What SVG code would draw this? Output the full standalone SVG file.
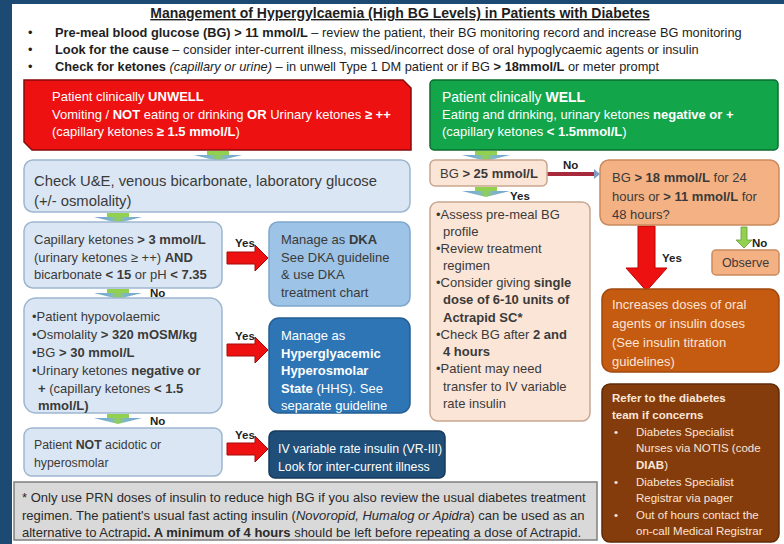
<svg xmlns="http://www.w3.org/2000/svg" width="784" height="544" viewBox="0 0 784 544">
<style>
text{font-family:"Liberation Sans",Arial,sans-serif;}
.b{font-weight:bold;}
.i{font-style:italic;}
.hd{font-size:12.8px;fill:#1e1e1e;}
.dk{font-size:13px;fill:#3a3a3a;}
.wh{fill:#ffffff;}
.lab{font-size:11.5px;font-weight:bold;fill:#1e1e1e;}
.yarrow{fill:#ee1111;stroke:#a50a0a;stroke-width:1;}
</style>
<defs>
<linearGradient id="hg" x1="0" x2="1" y1="0" y2="0">
<stop offset="0" stop-color="#6f9fd0"/>
<stop offset="0.35" stop-color="#7fb6c9"/>
<stop offset="0.5" stop-color="#92d050"/>
<stop offset="0.65" stop-color="#7fb6c9"/>
<stop offset="1" stop-color="#6f9fd0"/>
</linearGradient>
<g id="dn">
<rect x="-11" y="0" width="22" height="6" fill="#92d050"/>
<polygon points="-24,4 24,4 0,10" fill="url(#hg)"/>
</g>
<path id="ya" d="M0,-6 H28 V-13 L41,0 L28,13 V6 H0 Z"/>
</defs>

<rect x="0" y="0" width="784" height="544" fill="#1c4a72"/>
<rect x="12" y="4" width="772" height="540" fill="#ffffff"/>

<g id="header">
<text x="400" y="18" text-anchor="middle" class="b" font-size="14" fill="#1e1e1e" text-decoration="underline">Management of Hypergylcaemia (High BG Levels) in Patients with Diabetes</text>
<text x="28" y="37" class="hd">•</text>
<text x="55" y="37" class="hd"><tspan class="b">Pre-meal blood glucose (BG) &gt; 11 mmol/L</tspan> – review the patient, their BG monitoring record and increase BG monitoring</text>
<text x="28" y="54" class="hd">•</text>
<text x="55" y="54" class="hd"><tspan class="b">Look for the cause</tspan> – consider inter-current illness, missed/incorrect dose of oral hypoglycaemic agents or insulin</text>
<text x="28" y="71" class="hd">•</text>
<text x="55" y="71" class="hd"><tspan class="b">Check for ketones</tspan><tspan class="i"> (capillary or urine)</tspan> – in unwell Type 1 DM patient or if BG <tspan class="b">&gt; 18mmol/L</tspan> or meter prompt</text>
</g>

<g id="connectors">
<use href="#dn" x="218" y="151"/>
<use href="#dn" x="118" y="213"/>
<use href="#dn" x="118" y="289"/>
<text x="150" y="297" class="lab">No</text>
<use href="#dn" x="118" y="414"/>
<text x="150" y="425" class="lab">No</text>
<use href="#ya" x="227" y="258" class="yarrow"/>
<text x="235" y="247" class="lab" font-size="10.5">Yes</text>
<use href="#ya" x="227" y="350" class="yarrow"/>
<text x="235" y="340" class="lab" font-size="10.5">Yes</text>
<use href="#ya" x="227" y="449" class="yarrow"/>
<text x="235" y="439" class="lab" font-size="10.5">Yes</text>
<use href="#dn" x="486" y="151"/>
<use href="#dn" x="486" y="187"/>
<text x="510" y="200" class="lab">Yes</text>
<line x1="547" y1="174" x2="594" y2="174" stroke="#a8283c" stroke-width="4"/>
<polygon points="594,169 600,174 594,179" fill="#7f9cc4"/>
<text x="563" y="169" class="lab">No</text>
<polygon points="638,226 655,226 655,268 667,268 646.5,291 626,268 638,268" fill="#ee1111" stroke="#b00" stroke-width="1"/>
<text x="662" y="262" class="lab" font-size="12">Yes</text>
<polygon points="741,227 747,227 747,240 752,240 744,248 736,240 741,240" fill="#92d050" stroke="#6a9a3a" stroke-width="0.8"/>
<text x="752" y="247" class="lab" font-size="12">No</text>
</g>

<g id="unwell">
<polygon points="24,80 403,80 411,88 411,150 32,150 24,142" fill="#ee1111" stroke="#8a0a0a" stroke-width="1.5"/>
<text x="52" y="101" font-size="13" class="wh">Patient clinically <tspan class="b">UNWELL</tspan></text>
<text x="52" y="119" font-size="13" class="wh">Vomiting / <tspan class="b">NOT</tspan> eating or drinking <tspan class="b">OR</tspan> Urinary ketones <tspan class="b">≥ ++</tspan></text>
<text x="52" y="136" font-size="13" class="wh">(capillary ketones <tspan class="b">≥ 1.5 mmol/L</tspan>)</text>
</g>

<g id="well">
<rect x="430" y="80" width="348" height="70" rx="4" fill="#12a54a" stroke="#0b6e2e" stroke-width="1.5"/>
<text x="442" y="102" font-size="14" class="wh">Patient clinically <tspan class="b">WELL</tspan></text>
<text x="442" y="119" font-size="13" class="wh">Eating and drinking, urinary ketones <tspan class="b">negative or +</tspan></text>
<text x="442" y="136" font-size="13" class="wh">(capillary ketones <tspan class="b">&lt; 1.5mmol/L</tspan>)</text>
</g>

<g id="check">
<rect x="24" y="160" width="386" height="52" rx="9" fill="#dae6f3" stroke="#9fb6cf" stroke-width="1.5"/>
<text x="34" y="186" font-size="14.8" fill="#3a3a3a">Check U&amp;E, venous bicarbonate, laboratory glucose</text>
<text x="34" y="206" font-size="14.8" fill="#3a3a3a">(+/- osmolality)</text>
</g>

<g id="ketones">
<rect x="24" y="222" width="198" height="66" rx="9" fill="#dae6f3" stroke="#9fb6cf" stroke-width="1.5"/>
<text x="34" y="244" class="dk">Capillary ketones <tspan class="b">&gt; 3 mmol/L</tspan></text>
<text x="34" y="262" class="dk">(urinary ketones ≥ ++) <tspan class="b">AND</tspan></text>
<text x="34" y="279" class="dk">bicarbonate <tspan class="b">&lt; 15</tspan> or pH <tspan class="b">&lt; 7.35</tspan></text>
</g>

<g id="dka">
<rect x="269" y="222" width="141" height="84" rx="9" fill="#9dc3e6" stroke="#7fa7cc" stroke-width="1.5"/>
<text x="281" y="244" class="dk">Manage as <tspan class="b">DKA</tspan></text>
<text x="281" y="262" class="dk">See DKA guideline</text>
<text x="281" y="279" class="dk">&amp; use DKA</text>
<text x="281" y="297" class="dk">treatment chart</text>
</g>

<g id="hypo">
<rect x="24" y="298" width="198" height="115" rx="12" fill="#dae6f3" stroke="#9fb6cf" stroke-width="1.5"/>
<text x="32" y="321" class="dk">•Patient hypovolaemic</text>
<text x="32" y="339" class="dk">•Osmolality <tspan class="b">&gt; 320 mOSM/kg</tspan></text>
<text x="32" y="357" class="dk">•BG <tspan class="b">&gt; 30 mmol/L</tspan></text>
<text x="32" y="375" class="dk">•Urinary ketones <tspan class="b">negative or</tspan></text>
<text x="38" y="393" class="dk"><tspan class="b">+</tspan> (capillary ketones <tspan class="b">&lt; 1.5</tspan></text>
<text x="38" y="410" class="dk b">mmol/L)</text>
</g>

<g id="hhs">
<rect x="269" y="318" width="141" height="95" rx="10" fill="#2e75b6" stroke="#245e92" stroke-width="1.5"/>
<text x="281" y="340" font-size="13" class="wh">Manage as</text>
<text x="281" y="358" font-size="13" class="wh b">Hyperglyacemic</text>
<text x="281" y="375" font-size="13" class="wh b">Hyperosmolar</text>
<text x="281" y="393" font-size="13" class="wh"><tspan class="b">State</tspan> (HHS). See</text>
<text x="281" y="410" font-size="13" class="wh">separate guideline</text>
</g>

<g id="notacidotic">
<rect x="24" y="428" width="198" height="48" rx="8" fill="#dae6f3" stroke="#9fb6cf" stroke-width="1.5"/>
<text x="34" y="449" font-size="12.3" fill="#3a3a3a">Patient <tspan class="b">NOT</tspan> acidotic or</text>
<text x="34" y="467" font-size="12.3" fill="#3a3a3a">hyperosmolar</text>
</g>

<g id="vrii">
<rect x="269" y="431" width="176" height="47" rx="6" fill="#1f4e79" stroke="#163a5c" stroke-width="1.5"/>
<text x="278" y="453" font-size="12.3" class="wh">IV variable rate insulin (VR-III)</text>
<text x="278" y="471" font-size="12.3" class="wh">Look for inter-current illness</text>
</g>

<g id="footnote">
<rect x="14" y="482" width="583" height="58" fill="#d9d9d9" stroke="#7f7f7f" stroke-width="1.5"/>
<text x="22" y="502" font-size="13" fill="#2a2a2a">* Only use PRN doses of insulin to reduce high BG if you also review the usual diabetes treatment</text>
<text x="22" y="520" font-size="13" fill="#2a2a2a">regimen. The patient's usual fast acting insulin (<tspan class="i">Novoropid, Humalog or Apidra</tspan>) can be used as an</text>
<text x="22" y="537" font-size="13" fill="#2a2a2a">alternative to Actrapid<tspan class="b">. A minimum of 4 hours</tspan> should be left before repeating a dose of Actrapid.</text>
</g>

<g id="bg25">
<rect x="430" y="160" width="117" height="26" rx="5" fill="#fbe5d6" stroke="#c8a690" stroke-width="1.5"/>
<text x="440" y="178" class="dk">BG <tspan class="b">&gt; 25 mmol/L</tspan></text>
</g>

<g id="bg18">
<rect x="600" y="160" width="179" height="65" rx="9" fill="#f4b183" stroke="#c98a5d" stroke-width="1.5"/>
<text x="612" y="182" class="dk">BG <tspan class="b">&gt; 18 mmol/L</tspan> for 24</text>
<text x="612" y="201" class="dk">hours or <tspan class="b">&gt; 11 mmol/L</tspan> for</text>
<text x="612" y="219" class="dk">48 hours?</text>
</g>

<g id="assess">
<rect x="430" y="202" width="160" height="219" rx="8" fill="#fbe5d6" stroke="#c8a690" stroke-width="1.5"/>
<text x="436" y="219" class="dk">•Assess pre-meal BG</text>
<text x="443" y="236" class="dk">profile</text>
<text x="436" y="253" class="dk">•Review treatment</text>
<text x="443" y="270" class="dk">regimen</text>
<text x="436" y="287" class="dk">•Consider giving <tspan class="b">single</tspan></text>
<text x="443" y="304" class="dk b">dose of 6-10 units of</text>
<text x="443" y="322" class="dk b">Actrapid SC*</text>
<text x="436" y="339" class="dk">•Check BG after <tspan class="b">2 and</tspan></text>
<text x="443" y="356" class="dk b">4 hours</text>
<text x="436" y="373" class="dk">•Patient may need</text>
<text x="443" y="391" class="dk">transfer to IV variable</text>
<text x="443" y="408" class="dk">rate insulin</text>
</g>

<g id="observe">
<rect x="712" y="250" width="67" height="25" rx="4" fill="#f4b183" stroke="#c98a5d" stroke-width="1.5"/>
<text x="745.5" y="267" text-anchor="middle" font-size="12.5" fill="#3a3a3a">Observe</text>
</g>

<g id="increase">
<rect x="602" y="289" width="177" height="83" rx="10" fill="#c55a11" stroke="#a04a0e" stroke-width="1.5"/>
<text x="612" y="309" font-size="13" fill="#fbe5d6">Increases doses of oral</text>
<text x="612" y="328" font-size="13" fill="#fbe5d6">agents or insulin doses</text>
<text x="612" y="347" font-size="13" fill="#fbe5d6">(See insulin titration</text>
<text x="612" y="366" font-size="13" fill="#fbe5d6">guidelines)</text>
</g>

<g id="refer">
<rect x="602" y="384" width="177" height="158" rx="8" fill="#843c0c" stroke="#5e2a08" stroke-width="1.5"/>
<text x="612" y="402" font-size="11.5" fill="#fbe5d6" class="b">Refer to the diabetes</text>
<text x="612" y="419" font-size="11.5" fill="#fbe5d6" class="b">team if concerns</text>
<text x="614" y="436" font-size="11.5" fill="#fbe5d6">•</text>
<text x="636" y="436" font-size="11.5" fill="#fbe5d6">Diabetes Specialist</text>
<text x="636" y="452" font-size="11.5" fill="#fbe5d6">Nurses via NOTIS (code</text>
<text x="636" y="469" font-size="11.5" fill="#fbe5d6"><tspan class="b">DIAB</tspan>)</text>
<text x="614" y="486" font-size="11.5" fill="#fbe5d6">•</text>
<text x="636" y="486" font-size="11.5" fill="#fbe5d6">Diabetes Specialist</text>
<text x="636" y="502" font-size="11.5" fill="#fbe5d6">Registrar via pager</text>
<text x="614" y="519" font-size="11.5" fill="#fbe5d6">•</text>
<text x="636" y="519" font-size="11.5" fill="#fbe5d6">Out of hours contact the</text>
<text x="636" y="535" font-size="11.5" fill="#fbe5d6">on-call Medical Registrar</text>
</g>
</svg>
